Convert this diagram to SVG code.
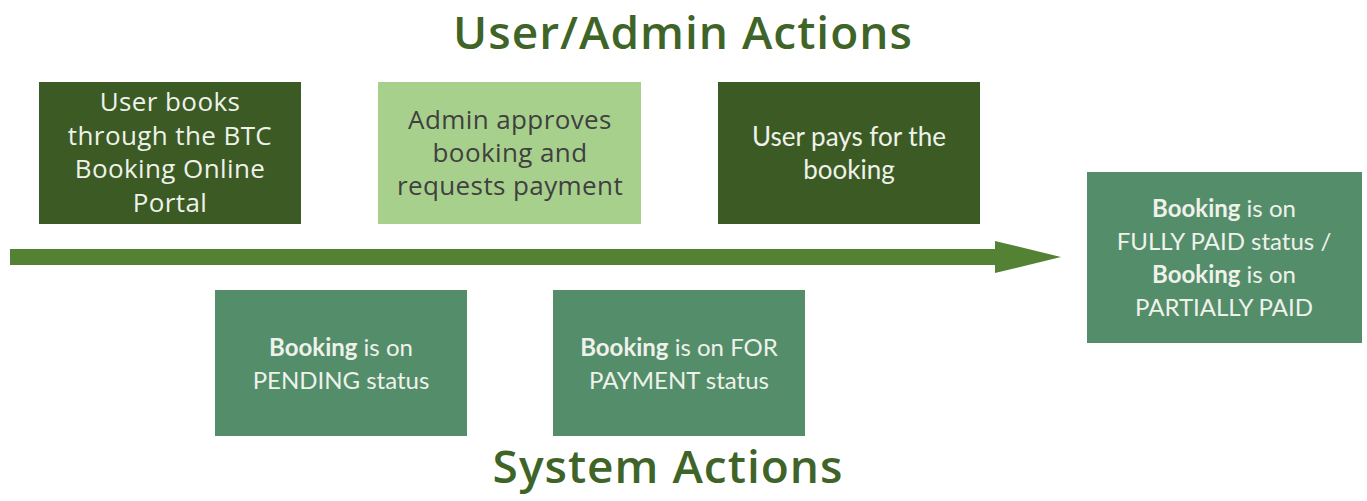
<svg xmlns="http://www.w3.org/2000/svg" width="1367" height="501" viewBox="0 0 1367 501">
<style>
.title{font-family:"Open Sans","Liberation Sans",sans-serif;font-weight:600;font-size:46px;letter-spacing:1px;fill:#3f6428;text-anchor:middle}
.t{font-family:Lato,"Liberation Sans",sans-serif;font-size:24px;text-anchor:middle}
.o{font-family:"Open Sans","Liberation Sans",sans-serif;font-size:26px;letter-spacing:0.4px}
.w{fill:#eef2ea}
.g{fill:#404040}
.b{font-weight:bold}
.dark{fill:#3c5a24}
.light{fill:#a8d08d}
.mid{fill:#548d6a}
</style>
<rect width="1367" height="501" fill="#ffffff"/>
<text class="title" x="683" y="49">User/Admin Actions</text>
<text class="title" x="668" y="483">System Actions</text>
<g id="connectors">
<polygon points="10,249 995,249 995,241 1061,257 995,273 995,265 10,265" fill="#548235"/>
</g>
<g id="user-books">
<rect class="dark" x="39" y="82" width="262" height="142"/>
<text class="t o w" x="170" y="111">User books</text>
<text class="t o w" x="170" y="145">through the BTC</text>
<text class="t o w" x="170" y="178">Booking Online</text>
<text class="t o w" x="170" y="212">Portal</text>
</g>
<g id="admin-approves">
<rect class="light" x="378" y="82" width="263" height="142"/>
<text class="t o g" x="510" y="129">Admin approves</text>
<text class="t o g" x="510" y="162">booking and</text>
<text class="t o g" x="510" y="195">requests payment</text>
</g>
<g id="user-pays">
<rect class="dark" x="718" y="82" width="262" height="142"/>
<text class="t w" x="849" y="146" style="font-size:26px">User pays for the</text>
<text class="t w" x="849" y="179" style="font-size:26px">booking</text>
</g>
<g id="fully-paid">
<rect class="mid" x="1087" y="172" width="275" height="171"/>
<text class="t w" x="1224" y="217"><tspan class="b">Booking</tspan> is on</text>
<text class="t w" x="1224" y="250">FULLY PAID status /</text>
<text class="t w" x="1224" y="283"><tspan class="b">Booking</tspan> is on</text>
<text class="t w" x="1224" y="316">PARTIALLY PAID</text>
</g>
<g id="pending">
<rect class="mid" x="215" y="290" width="252" height="146"/>
<text class="t w" x="341" y="356"><tspan class="b">Booking</tspan> is on</text>
<text class="t w" x="341" y="389">PENDING status</text>
</g>
<g id="for-payment">
<rect class="mid" x="553" y="290" width="252" height="146"/>
<text class="t w" x="679" y="356"><tspan class="b">Booking</tspan> is on FOR</text>
<text class="t w" x="679" y="389">PAYMENT status</text>
</g>
</svg>
